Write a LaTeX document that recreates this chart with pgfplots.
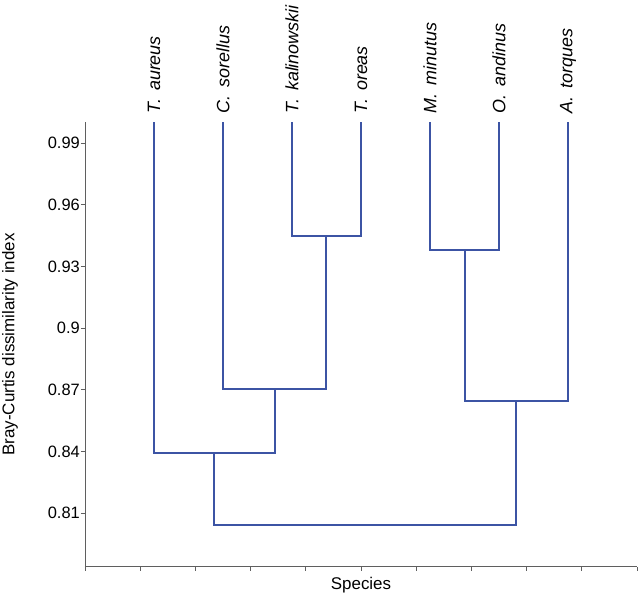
\documentclass[border=0pt]{standalone}
\usepackage{pgfplots}
\pgfplotsset{compat=1.18}
\usepackage{fontspec}
\setmainfont{Liberation Sans}
\definecolor{dendro}{RGB}{60,84,164}
\definecolor{axgray}{RGB}{95,95,95}
\tikzset{link/.style={draw=dendro, line width=2bp, line join=miter, mark=none, solid}}
\begin{document}
\begin{tikzpicture}
\begin{axis}[
  scale only axis, width=552bp, height=444bp,
  xmin=0, xmax=8, ymin=0.784, ymax=1.0,
  axis x line*=bottom, axis y line*=left,
  axis line style={axgray, line width=0.8bp},
  xtick={0,0.8,1.6,2.4,3.2,4,4.8,5.6,6.4,7.2,8},
  xticklabels={},
  ytick={0.81,0.84,0.87,0.9,0.93,0.96,0.99},
  yticklabels={0.81,0.84,0.87,0.9,0.93,0.96,0.99},
  tick align=outside, major tick length=4bp,
  tick style={axgray, line width=0.8bp},
  ticklabel style={font=\fontsize{16.5}{19}\selectfont},
  yticklabel style={inner sep=1bp},
  xlabel={Species},
  ylabel={Bray-Curtis dissimilarity index},
  label style={font=\fontsize{17}{20}\selectfont},
  xlabel style={at={(axis description cs:0.5,0)}, anchor=center, yshift=-19bp},
  ylabel style={at={(axis description cs:0,0.5)}, anchor=center, yshift=75bp},
  clip=false,
]
\addplot[link] coordinates {(3,1.0) (3,0.9448) (4,0.9448) (4,1.0)};
\addplot[link] coordinates {(5,1.0) (5,0.9381) (6,0.9381) (6,1.0)};
\addplot[link] coordinates {(2,1.0) (2,0.8704) (3.5,0.8704) (3.5,0.9448)};
\addplot[link] coordinates {(5.5,0.9381) (5.5,0.8647) (7,0.8647) (7,1.0)};
\addplot[link] coordinates {(1,1.0) (1,0.8391) (2.75,0.8391) (2.75,0.8704)};
\addplot[link] coordinates {(1.875,0.8391) (1.875,0.8042) (6.25,0.8042) (6.25,0.8647)};
\tikzset{sp/.style={rotate=90, anchor=west, inner sep=0pt, font=\itshape\fontsize{18}{20}\selectfont}}
\node[sp] at ([yshift=9bp]axis cs:1,1.0) {T.\hspace{0.45em}aureus};
\node[sp] at ([yshift=9bp]axis cs:2,1.0) {C.\hspace{0.45em}sorellus};
\node[sp] at ([yshift=9bp]axis cs:3,1.0) {T.\hspace{0.45em}kalinowskii};
\node[sp] at ([yshift=9bp]axis cs:4,1.0) {T.\hspace{0.45em}oreas};
\node[sp] at ([yshift=9bp]axis cs:5,1.0) {M.\hspace{0.45em}minutus};
\node[sp] at ([yshift=9bp]axis cs:6,1.0) {O.\hspace{0.45em}andinus};
\node[sp] at ([yshift=9bp]axis cs:7,1.0) {A.\hspace{0.45em}torques};
\end{axis}
\pgfresetboundingbox
\path[use as bounding box] (-85bp,-35.5bp) rectangle (555bp,566.5bp);
\end{tikzpicture}
\end{document}
